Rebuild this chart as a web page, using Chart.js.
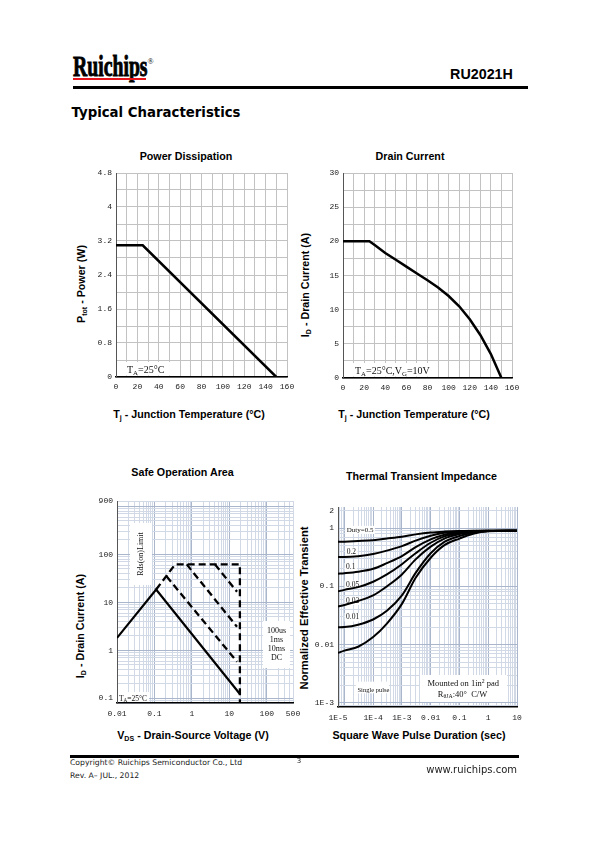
<!DOCTYPE html>
<html>
<head>
<meta charset="utf-8">
<title>RU2021H - Typical Characteristics</title>
<script src="https://cdn.jsdelivr.net/npm/chart.js@4.4.1/dist/chart.umd.min.js"></script>
<style>
  html, body { margin: 0; padding: 0; background: #fff; }
  body { position: relative; width: 598px; height: 842px; overflow: hidden; color: #000;
         font-family: "Liberation Sans", Arial, sans-serif; }
  .abs { position: absolute; white-space: nowrap; line-height: 1; }
  .c { transform: translate(-50%, -50%); }
  .l { transform: translateY(-50%); }
  .r { transform: translate(-100%, -50%); }
  .rot { transform: translate(-50%, -50%) rotate(-90deg); }
  .ttl { font-weight: bold; font-size: 10.7px; }
  sub.s { font-size: 66%; vertical-align: -0.3em; line-height: 0; }
  canvas { position: absolute; }
</style>
</head>
<body>

<!-- page header -->
<div class="abs" style="left:72.5px;top:52.4px;font-family:'Liberation Serif';font-weight:bold;font-size:29px;transform:scaleX(0.68);transform-origin:0 0;-webkit-text-stroke:0.9px #000;">Ruichips</div>
<div class="abs" style="left:147.5px;top:58px;font-family:'Liberation Serif';font-size:8px;">&reg;</div>
<div class="abs" style="left:73px;top:77.5px;width:73px;height:2px;background:#e8141b;"></div>
<div class="abs c" style="left:481.5px;top:73.5px;font-weight:bold;font-size:14.3px;">RU2021H</div>
<div class="abs" style="left:73px;top:86px;width:455px;height:3px;background:#000;"></div>
<div class="abs l" style="left:71.5px;top:112.7px;font-family:'DejaVu Sans';font-weight:bold;font-size:13.3px;">Typical Characteristics</div>

<!-- chart titles -->
<div class="abs c ttl" style="left:186px;top:155.5px;">Power Dissipation</div>
<div class="abs c ttl" style="left:410px;top:155.5px;">Drain Current</div>
<div class="abs c ttl" style="left:182.5px;top:471.5px;">Safe Operation Area</div>
<div class="abs c ttl" style="left:421.5px;top:476px;">Thermal Transient Impedance</div>

<!-- axis titles -->
<div class="abs rot ttl" style="left:81px;top:283.5px;">P<sub class="s">tot</sub> - Power (W)</div>
<div class="abs rot ttl" style="left:305px;top:285px;">I<sub class="s">D</sub> - Drain Current (A)</div>
<div class="abs rot ttl" style="left:80px;top:626px;">I<sub class="s">D</sub> - Drain Current (A)</div>
<div class="abs rot ttl" style="left:305px;top:608px;font-size:11.2px;">Normalized Effective Transient</div>
<div class="abs c ttl" style="left:189px;top:414px;">T<sub class="s">j</sub> - Junction Temperature (&deg;C)</div>
<div class="abs c ttl" style="left:414px;top:414px;">T<sub class="s">j</sub> - Junction Temperature (&deg;C)</div>
<div class="abs c ttl" style="left:193px;top:735px;">V<sub class="s">DS</sub> - Drain-Source Voltage (V)</div>
<div class="abs c ttl" style="left:419px;top:735px;">Square Wave Pulse Duration (sec)</div>

<canvas id="pdChart"></canvas>
<canvas id="idChart"></canvas>
<canvas id="soaChart"></canvas>
<canvas id="zthChart"></canvas>

<!-- page footer -->
<div class="abs" style="left:70px;top:755px;width:449px;height:3px;background:#000;"></div>
<div class="abs l" style="left:70px;top:762.5px;font-family:'DejaVu Sans';font-size:7.7px;color:#222;">Copyright&copy; Ruichips Semiconductor Co., Ltd</div>
<div class="abs l" style="left:70px;top:775.5px;font-family:'DejaVu Sans';font-size:7.7px;color:#222;">Rev. A&ndash; JUL., 2012</div>
<div class="abs c" style="left:299px;top:760.5px;font-family:'DejaVu Sans';font-size:7px;color:#222;">3</div>
<div class="abs r" style="left:517px;top:769.7px;font-family:'DejaVu Sans';font-size:10px;color:#222;">www.ruichips.com</div>

<script>
// ---------- data ----------
// power dissipation vs junction temperature
const pdTemp = [0, 25, 150];
const pdPower = [3.1, 3.1, 0];
const pdYLabels = [0, 0.8, 1.6, 2.4, 3.2, 4, 4.8];
const tempLabels = [0, 20, 40, 60, 80, 100, 120, 140, 160];

// drain current vs junction temperature
const idTemp = [0, 25, 30, 40, 50, 60, 70, 80, 90, 100, 110, 120, 130, 140, 150];
const idCurrent = [20, 20, 19.45, 18.3, 17.3, 16.3, 15.3, 14.3, 13.25, 12.0, 10.5, 8.6, 6.3, 3.5, 0];
const idYLabels = [0, 5, 10, 15, 20, 25, 30];

// safe operating area (V, A)
const soaDcV = [0.01, 0.111, 19.1];
const soaDcI = [1.82, 18.6, 0.123];
const soaLimitV = [0.111, 0.356, 19.1, 19.1];
const soaLimitI = [18.6, 62, 62, 0.08];
const soa10msV = [0.21, 16];
const soa10msI = [35, 0.58];
const soa1msV = [0.727, 16];
const soa1msI = [62, 3.1];
const soa100usV = [4.12, 16];
const soa100usI = [62, 16.7];
const soaXTicks = [0.01, 0.1, 1, 10, 100, 500];
const soaXLabels = ['0.01', '0.1', '1', '10', '100', '500'];
const soaYTicks = [0.1, 1, 10, 100, 1300];
const soaYLabels = ['0.1', '1', '10', '100', '900'];

// normalized transient thermal impedance
const pulseTime = [6e-6, 1e-5, 3e-5, 1e-4, 3e-4, 1e-3, 3e-3, 0.01, 0.03, 0.1, 0.3, 1, 10];
const zthD05 = [0.58, 0.585, 0.60, 0.62, 0.66, 0.71, 0.78, 0.84, 0.87, 0.89, 0.90, 0.90, 0.90];
const zthD02 = [0.32, 0.32, 0.33, 0.36, 0.41, 0.49, 0.61, 0.74, 0.83, 0.87, 0.89, 0.90, 0.90];
const zthD01 = [0.165, 0.168, 0.178, 0.20, 0.25, 0.33, 0.47, 0.64, 0.77, 0.85, 0.88, 0.90, 0.90];
const zthD005 = [0.082, 0.087, 0.097, 0.12, 0.16, 0.24, 0.37, 0.56, 0.72, 0.82, 0.87, 0.89, 0.90];
const zthD002 = [0.045, 0.048, 0.056, 0.07, 0.10, 0.16, 0.29, 0.48, 0.66, 0.79, 0.86, 0.89, 0.90];
const zthD001 = [0.0198, 0.020, 0.022, 0.027, 0.038, 0.07, 0.17, 0.37, 0.58, 0.73, 0.84, 0.89, 0.90];
const zthSingle = [0.0072, 0.0079, 0.0092, 0.0135, 0.023, 0.05, 0.14, 0.31, 0.51, 0.66, 0.80, 0.88, 0.90];
const zthXTicks = [6e-6, 1e-4, 1e-3, 0.01, 0.1, 1, 10];
const zthXLabels = ['1E-5', '1E-4', '1E-3', '0.01', '0.1', '1', '10'];
const zthYTicks = [0.001, 0.01, 0.1, 1, 2];
const zthYLabels = ['1E-3', '0.01', '0.1', '1', '2'];

// ---------- layout ----------
const PAD_L = 40, PAD_T = 10, PAD_R = 16, PAD_B = 24;
const TICK_FONT = { family: "'Liberation Mono'", size: 8 };
const SERIF = "'Liberation Serif'";

function pts(xs, ys) {
  return xs.map((x, i) => ({ x, y: ys[i] }));
}

function placeCanvas(id, p) {
  const cv = document.getElementById(id);
  cv.width = p.r - p.l + PAD_L + PAD_R;
  cv.height = p.b - p.t + PAD_T + PAD_B;
  cv.style.left = (p.l - PAD_L) + 'px';
  cv.style.top = (p.t - PAD_T) + 'px';
  return cv;
}

function fitAxis(axis) {
  return s => { if (axis === 'x') s.height = PAD_B; else s.width = PAD_L; };
}

function linearAxis(axis, min, max, step, labels) {
  const grid = [];
  for (let v = min; v <= max + 1e-9; v += step) grid.push(Math.round(v * 1000) / 1000);
  return {
    type: 'linear', min, max,
    afterBuildTicks: s => { s.ticks = grid.map(v => ({ value: v })); },
    afterFit: fitAxis(axis),
    ticks: {
      autoSkip: false, maxRotation: 0, padding: axis === 'x' ? 5 : 4, color: '#222', font: TICK_FONT,
      callback: v => labels.includes(v) ? String(v) : '',
    },
    grid: { color: '#c2c2c2', lineWidth: 1, drawTicks: false },
    border: { display: true, color: axis === 'x' ? '#000' : '#555', width: axis === 'x' ? 1.6 : 1 },
  };
}

function logAxis(axis, min, max, tickVals, tickLabels) {
  const same = (a, b) => Math.abs(Math.log10(a / b)) < 1e-6;
  const grid = [];
  for (let e = Math.floor(Math.log10(min)); e <= Math.ceil(Math.log10(max)); e++) {
    for (let m = 1; m < 10; m++) {
      const v = m * Math.pow(10, e);
      if (v >= min * 0.999 && v <= max * 1.001) grid.push(v);
    }
  }
  tickVals.forEach(v => { if (!grid.some(g => same(g, v))) grid.push(v); });
  grid.sort((a, b) => a - b);
  const isDecade = v => Math.abs(Math.log10(v) - Math.round(Math.log10(v))) < 1e-6;
  return {
    type: 'logarithmic', min, max,
    afterBuildTicks: s => { s.ticks = grid.map(v => ({ value: v })); },
    afterFit: fitAxis(axis),
    ticks: {
      autoSkip: false, maxRotation: 0, padding: axis === 'x' ? 6 : 4, color: '#222', font: TICK_FONT,
      callback: v => {
        const i = tickVals.findIndex(t => same(t, v));
        return i >= 0 ? tickLabels[i] : '';
      },
    },
    grid: {
      drawTicks: false, lineWidth: 1,
      color: c => (c.tick && isDecade(c.tick.value)) ? '#a9b6cb' : '#d2d9e6',
    },
    border: { display: true, color: axis === 'x' ? '#000' : '#555', width: axis === 'x' ? 1.6 : 1 },
  };
}

function drawRuns(ctx, runs, x, y, size, align) {
  const pieces = runs.map(([t, m]) => {
    const s = m ? size * 0.68 : size;
    ctx.font = s + 'px ' + SERIF;
    return { t, m, s, w: ctx.measureText(t).width };
  });
  const total = pieces.reduce((a, p) => a + p.w, 0);
  let cx = align === 'center' ? x - total / 2 : x;
  for (const p of pieces) {
    ctx.font = p.s + 'px ' + SERIF;
    const dy = p.m === 'sub' ? size * 0.22 : p.m === 'sup' ? -size * 0.38 : 0;
    ctx.fillText(p.t, cx, y + dy);
    cx += p.w;
  }
  return total;
}

// text notes inside the plot area, placed relative to the chart area
const notesPlugin = {
  id: 'notes',
  beforeDatasetsDraw(chart, args, opts) {
    const { ctx, chartArea: a } = chart;
    (opts.items || []).forEach(n => {
      ctx.save();
      ctx.fillStyle = '#fff';
      if (n.box) ctx.fillRect(a.left + n.box[0], a.top + n.box[1], n.box[2], n.box[3]);
      ctx.fillStyle = '#111';
      ctx.textBaseline = 'alphabetic';
      (n.lines || []).forEach(ln => {
        const x = a.left + ln.x, y = a.top + ln.y;
        if (ln.rot) {
          ctx.save();
          ctx.translate(x, y);
          ctx.rotate(-Math.PI / 2);
          ctx.textBaseline = 'middle';
          drawRuns(ctx, ln.runs, 0, 0, ln.size, 'center');
          ctx.restore();
        } else {
          if (ln.bg) {
            ctx.font = ln.size + 'px ' + SERIF;
            const w = ln.runs.reduce((s, r) => s + ctx.measureText(r[0]).width, 0);
            ctx.fillStyle = '#fff';
            ctx.fillRect(x - 1.5, y - ln.size * 0.8, w + 3, ln.size + 1);
            ctx.fillStyle = '#111';
          }
          drawRuns(ctx, ln.runs, x, y, ln.size, ln.align);
        }
      });
      ctx.restore();
    });
  },
};
Chart.register(notesPlugin);

function baseOptions(xScale, yScale, notes) {
  return {
    responsive: false, animation: false, devicePixelRatio: 1, events: [],
    layout: { padding: { top: PAD_T, right: PAD_R, left: 0, bottom: 0 }, autoPadding: false },
    scales: { x: xScale, y: yScale },
    plugins: { legend: { display: false }, tooltip: { enabled: false }, notes: { items: notes } },
    elements: { point: { radius: 0 } },
  };
}

function line(data, extra) {
  return Object.assign({ data, borderColor: '#000', borderWidth: 2.5, fill: false, tension: 0, pointRadius: 0 }, extra || {});
}

// ---------- power dissipation ----------
new Chart(placeCanvas('pdChart', { l: 116, t: 173, r: 287, b: 377 }), {
  type: 'line',
  data: { datasets: [line(pts(pdTemp, pdPower))] },
  options: baseOptions(
    linearAxis('x', 0, 160, 10, tempLabels),
    linearAxis('y', 0, 4.8, 0.4, pdYLabels),
    [{ box: [1.5, 189, 54, 13.5], lines: [{ x: 11, y: 200, size: 10, runs: [['T'], ['A', 'sub'], ['=25°C']] }] }]
  ),
});

// ---------- drain current ----------
new Chart(placeCanvas('idChart', { l: 343, t: 173, r: 512, b: 378 }), {
  type: 'line',
  data: { datasets: [line(pts(idTemp, idCurrent))] },
  options: baseOptions(
    linearAxis('x', 0, 160, 10, tempLabels),
    linearAxis('y', 0, 30, 2.5, idYLabels),
    [{ box: [1.5, 190, 93, 13.5], lines: [{ x: 12, y: 201, size: 10, runs: [['T'], ['A', 'sub'], ['=25°C,V'], ['G', 'sub'], ['=10V']] }] }]
  ),
});

// ---------- safe operating area ----------
const dash = { borderDash: [7, 4], borderWidth: 2.3 };
new Chart(placeCanvas('soaChart', { l: 117, t: 501, r: 293, b: 703 }), {
  type: 'line',
  data: {
    datasets: [
      line(pts(soaDcV, soaDcI), { borderWidth: 2.2 }),
      line(pts(soaLimitV, soaLimitI), dash),
      line(pts(soa10msV, soa10msI), dash),
      line(pts(soa1msV, soa1msI), dash),
      line(pts(soa100usV, soa100usI), dash),
    ],
  },
  options: baseOptions(
    logAxis('x', 0.01, 500, soaXTicks, soaXLabels),
    logAxis('y', 0.08, 1300, soaYTicks, soaYLabels),
    [
      { box: [13, 22, 22, 62], lines: [{ x: 23.5, y: 53, rot: true, size: 8, runs: [['Rds(on)Limit']] }] },
      { box: [146, 120, 27, 47], lines: [
        { x: 159.5, y: 132, size: 8, align: 'center', runs: [['100us']] },
        { x: 159.5, y: 141, size: 8, align: 'center', runs: [['1ms']] },
        { x: 159.5, y: 150, size: 8, align: 'center', runs: [['10ms']] },
        { x: 159.5, y: 159, size: 8, align: 'center', runs: [['DC']] },
      ] },
      { box: [1, 191, 31, 10], lines: [{ x: 2, y: 199.5, size: 7.5, runs: [['T'], ['A', 'sub'], ['=25°C']] }] },
    ]
  ),
});

// ---------- transient thermal impedance ----------
const zth = { borderWidth: 2, cubicInterpolationMode: 'monotone' };
new Chart(placeCanvas('zthChart', { l: 338, t: 507, r: 517, b: 707 }), {
  type: 'line',
  data: {
    datasets: [zthD05, zthD02, zthD01, zthD005, zthD002, zthD001, zthSingle]
      .map(ys => line(pts(pulseTime, ys), zth)),
  },
  options: baseOptions(
    logAxis('x', 6e-6, 10, zthXTicks, zthXLabels),
    logAxis('y', 0.00085, 2.3, zthYTicks, zthYLabels),
    [
      { lines: [
        { x: 8.7, y: 24.5, size: 7, bg: true, runs: [['Duty=0.5']] },
        { x: 8.7, y: 46.5, size: 7.5, bg: true, runs: [['0.2']] },
        { x: 8, y: 62, size: 7.5, bg: true, runs: [['0.1']] },
        { x: 8, y: 79.5, size: 7.5, bg: true, runs: [['0.05']] },
        { x: 8, y: 95.5, size: 7.5, bg: true, runs: [['0.02']] },
        { x: 8, y: 112, size: 7.5, bg: true, runs: [['0.01']] },
      ] },
      { box: [17.7, 174.7, 33.3, 11.6], lines: [{ x: 19.5, y: 184.5, size: 6.5, runs: [['Single pulse']] }] },
      { box: [82, 168, 87, 27], lines: [
        { x: 125.3, y: 179, size: 8.5, align: 'center', runs: [['Mounted on 1in'], ['2', 'sup'], [' pad']] },
        { x: 124.5, y: 189.5, size: 8.5, align: 'center', runs: [['R'], ['θJA', 'sub'], [':40°  C/W']] },
      ] },
    ]
  ),
});
</script>
</body>
</html>
